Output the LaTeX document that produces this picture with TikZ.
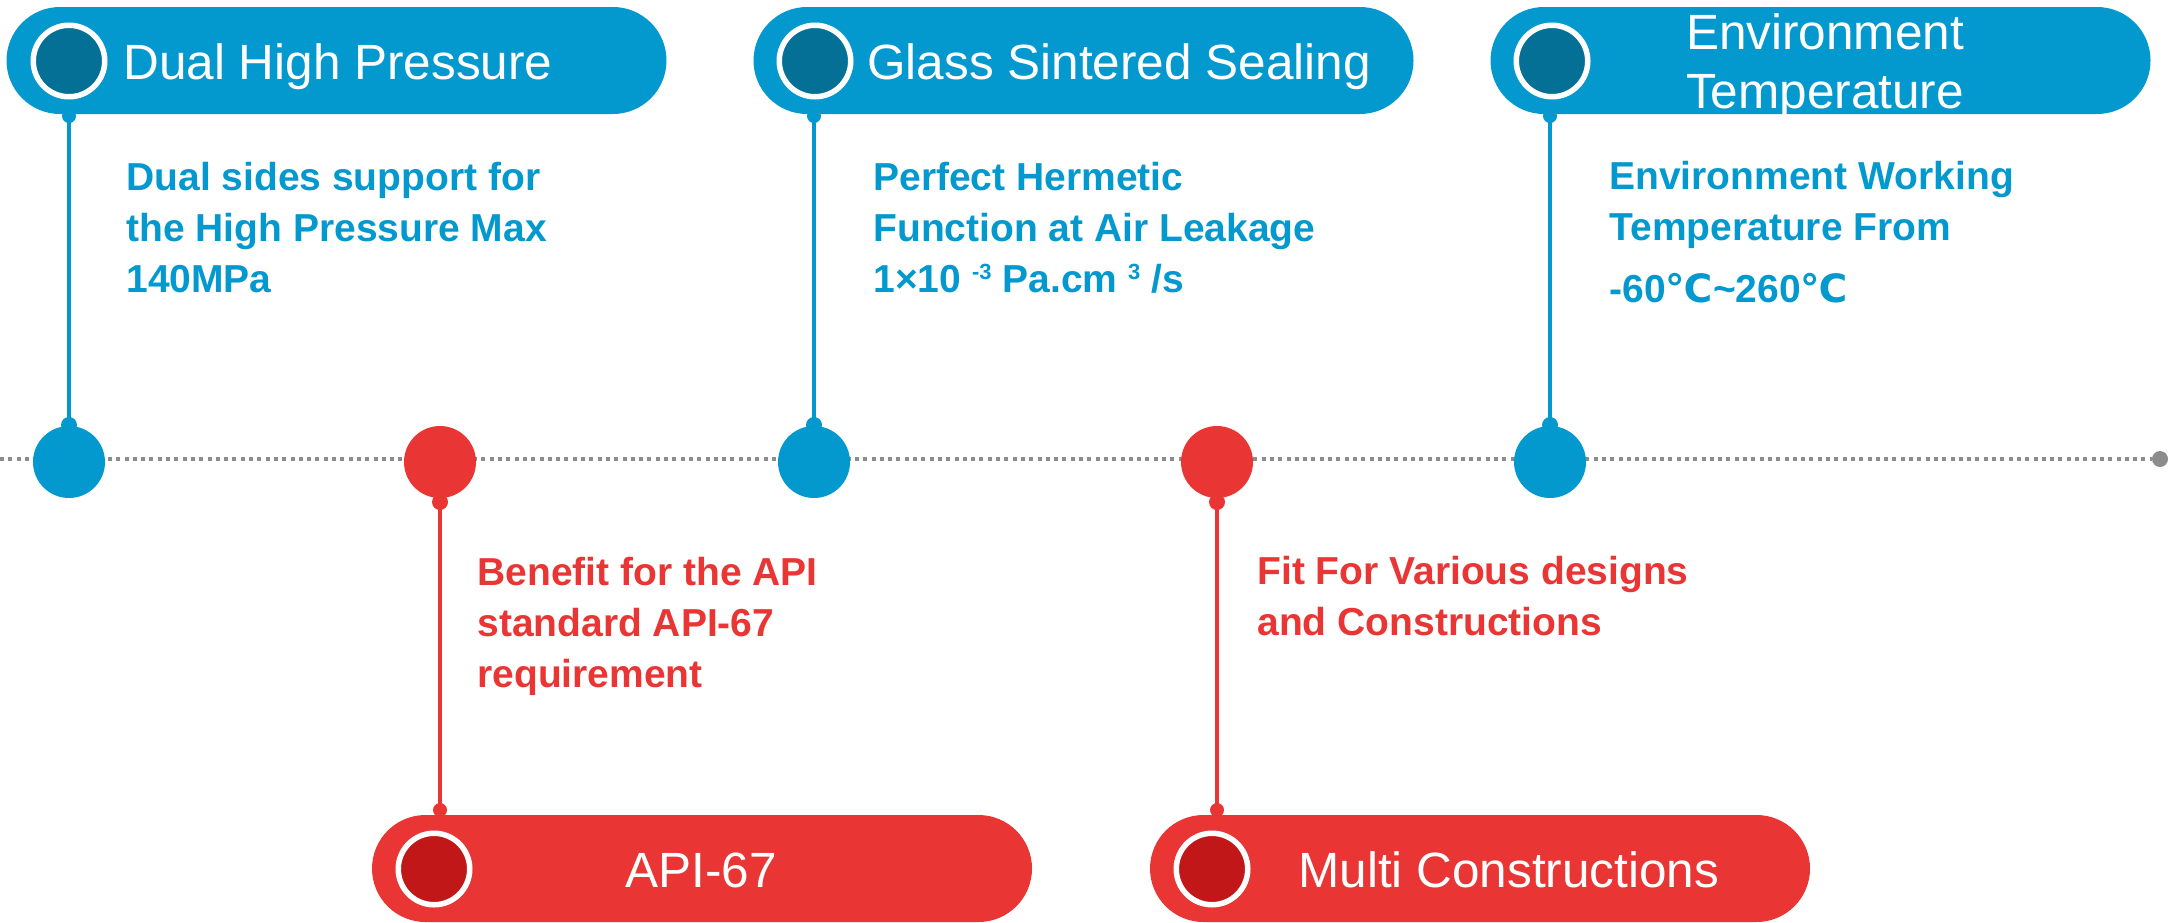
\documentclass[tikz,border=0pt]{standalone}
\usepackage{fontspec}
\setmainfont{Liberation Sans}
\newfontfamily\dejavu{DejaVu Sans}
\usetikzlibrary{shapes.misc}
\definecolor{cblue}{RGB}{3,153,206}
\definecolor{cdblue}{RGB}{5,112,150}
\definecolor{cred}{RGB}{233,54,52}
\definecolor{cdred}{RGB}{193,23,24}
\definecolor{cgray}{RGB}{140,140,140}
\newcommand{\supx}[1]{\raisebox{6.5pt}{\fontsize{11}{11}\selectfont #1}}
\newcommand{\degc}{{\dejavu ℃}}
\begin{document}
\begin{tikzpicture}[x=0.5pt,y=-0.5pt,
  pill/.style={rounded rectangle, minimum width=330pt, minimum height=53.5pt, inner sep=0pt},
  ring/.style={circle, draw=white, line width=2.75pt, minimum size=35.75pt, inner sep=0pt},
  bigdot/.style={circle, minimum size=36pt, inner sep=0pt},
  smalldot/.style={circle, minimum size=7pt, inner sep=0pt},
  joindot/.style={circle, minimum size=8pt, inner sep=0pt},
  link/.style={line width=2pt},
  title/.style={text=white, inner sep=0pt, font=\fontsize{24.75}{29.5}\selectfont},
  desc/.style={inner sep=0pt, anchor=base west, font=\bfseries\fontsize{19.5}{25.5}\selectfont},
  timeline/.style={cgray, line width=2pt, dash pattern=on 2pt off 2.15pt}]

\useasboundingbox (0,0) rectangle (2177,922);

% timeline
\coordinate (tstart) at (0,459);
\node[joindot, fill=cgray] (tend) at (2160,459) {};
\draw[timeline] (tstart) -- (tend);

% ---- event 1 (blue)
\node[bigdot, fill=cblue] (b1) at (69,462) {};
\node[joindot, fill=cblue] (v1) at (69,425) {};
\node[smalldot, fill=cblue] (u1) at (69,116) {};
\draw[link, cblue] (u1.center) -- (v1.center);
\node[pill, fill=cblue] (p1) at (336.5,60.5) {};
\node[ring, fill=cdblue] (c1) at (69,61) {};
\node[title, anchor=base west] (t1) at (123,79) {Dual High Pressure};
\node[desc, text=cblue] (d1) at (126,190) {\vtop{\hbox{Dual sides support for}\hbox{the High Pressure Max}\hbox{140MPa}}};

% ---- event 2 (red)
\node[bigdot, fill=cred] (b2) at (440,462) {};
\node[joindot, fill=cred] (v2) at (440,502) {};
\node[smalldot, fill=cred] (u2) at (440,810) {};
\draw[link, cred] (v2.center) -- (u2.center);
\node[pill, fill=cred] (p2) at (702,868.5) {};
\node[ring, fill=cdred] (c2) at (434,869) {};
\node[title, anchor=base west] (t2) at (625,887) {API-67};
\node[desc, text=cred] (d2) at (477,585) {\vtop{\hbox{Benefit for the API}\hbox{standard API-67}\hbox{requirement}}};

% ---- event 3 (blue)
\node[bigdot, fill=cblue] (b3) at (814,462) {};
\node[joindot, fill=cblue] (v3) at (814,425) {};
\node[smalldot, fill=cblue] (u3) at (814,116) {};
\draw[link, cblue] (u3.center) -- (v3.center);
\node[pill, fill=cblue] (p3) at (1083.5,60.5) {};
\node[ring, fill=cdblue] (c3) at (815,61) {};
\node[title, anchor=base west] (t3) at (867,79) {Glass Sintered Sealing};
\node[desc, text=cblue] (d3) at (873,190) {\vtop{\hbox{Perfect Hermetic}\hbox{Function at Air Leakage}\hbox{1×10 \supx{-3} Pa.cm \supx{3} /s}}};

% ---- event 4 (red)
\node[bigdot, fill=cred] (b4) at (1217,462) {};
\node[joindot, fill=cred] (v4) at (1217,502) {};
\node[smalldot, fill=cred] (u4) at (1217,810) {};
\draw[link, cred] (v4.center) -- (u4.center);
\node[pill, fill=cred] (p4) at (1480,868.5) {};
\node[ring, fill=cdred] (c4) at (1212,869) {};
\node[title, anchor=base west] (t4) at (1298,887) {Multi Constructions};
\node[desc, text=cred] (d4) at (1257,584) {\vtop{\hbox{Fit For Various designs}\hbox{and Constructions}}};

% ---- event 5 (blue)
\node[bigdot, fill=cblue] (b5) at (1550,462) {};
\node[joindot, fill=cblue] (v5) at (1550,425) {};
\node[smalldot, fill=cblue] (u5) at (1550,116) {};
\draw[link, cblue] (u5.center) -- (v5.center);
\node[pill, fill=cblue] (p5) at (1820.5,60.5) {};
\node[ring, fill=cdblue] (c5) at (1552,61) {};
\node[title, anchor=base] (t5) at (1825,49) {\vtop{\halign{\hfil#\hfil\cr Environment\cr Temperature\cr}}};
\node[desc, text=cblue] (d5) at (1609,189) {\vtop{\hbox{Environment Working}\hbox{Temperature From}\vskip5.5pt\hbox{-60\degc\textasciitilde260\degc}}};
\end{tikzpicture}
\end{document}
